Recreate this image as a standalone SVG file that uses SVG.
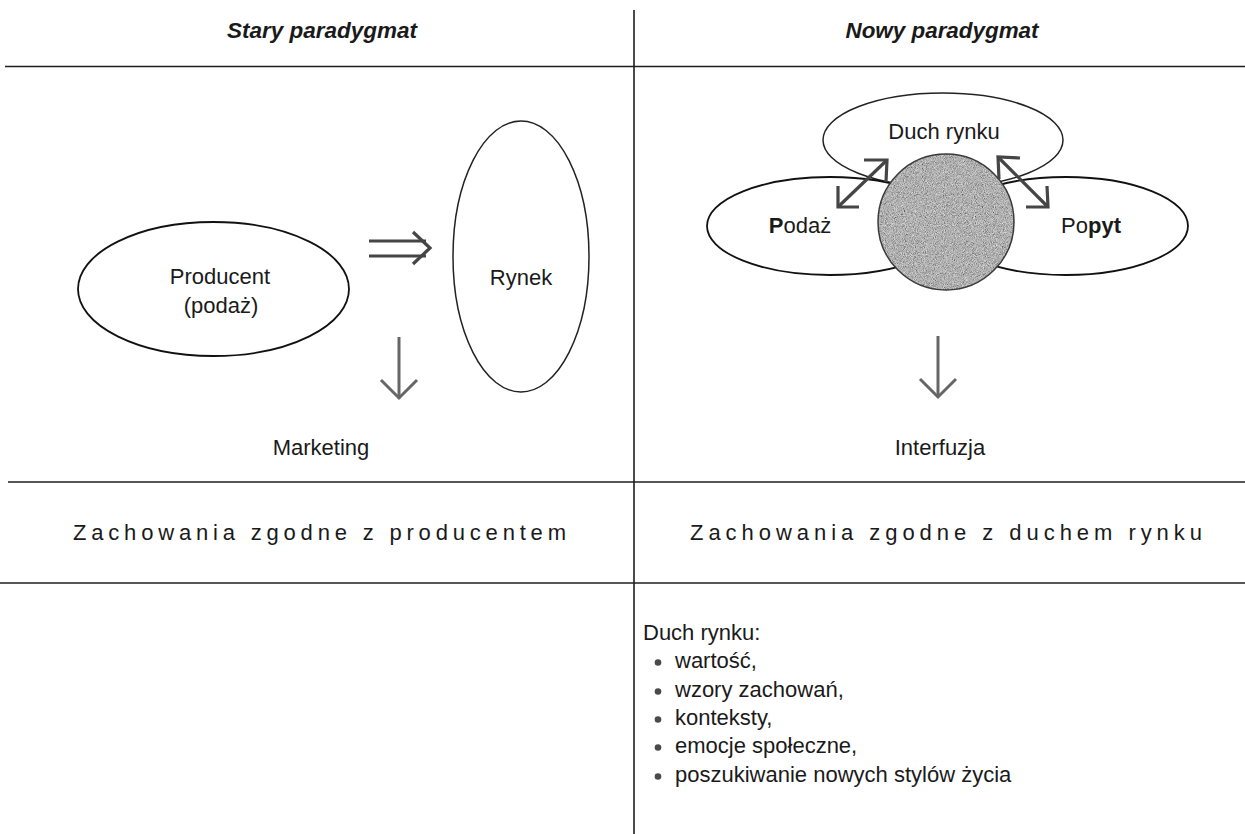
<svg xmlns="http://www.w3.org/2000/svg" width="1245" height="834" viewBox="0 0 1245 834">
<style>
  text { font-family: "Liberation Sans", Arial, sans-serif; fill: #1a1a1a; }
  .hdr { font-size: 22px; font-weight: bold; font-style: italic; text-anchor: middle; }
  .lbl { font-size: 22px; text-anchor: middle; }
  .row { font-size: 22px; }
  .lst { font-size: 22px; }
  .grid { stroke: #1e1e1e; stroke-width: 1.6; fill: none; }
  .ell { fill: #fff; stroke: #111; stroke-width: 1.8; }
  .arr { stroke: #454545; stroke-width: 3.2; fill: none; stroke-linecap: butt; stroke-linejoin: miter; }
  .thin { stroke: #666; stroke-width: 3; fill: none; }
</style>
<defs>
  <filter id="grain" x="0" y="0" width="1" height="1">
    <feTurbulence type="fractalNoise" baseFrequency="1.1" numOctaves="2" seed="5" result="noise"/>
    <feColorMatrix in="noise" type="matrix" values="0.5 0.5 0.5 0 -0.32  0.5 0.5 0.5 0 -0.32  0.5 0.5 0.5 0 -0.32  0 0 0 0 1" result="gray"/>
    <feComposite in="gray" in2="SourceGraphic" operator="in"/>
  </filter>
</defs>
<rect x="0" y="0" width="1245" height="834" fill="#fff"/>

<g id="grid">
  <line class="grid" x1="634" y1="10" x2="634" y2="834"/>
  <line class="grid" x1="5" y1="66.5" x2="1245" y2="66.5"/>
  <line class="grid" x1="8" y1="482" x2="1245" y2="482"/>
  <line class="grid" x1="0" y1="583" x2="1245" y2="583"/>
</g>

<g id="headers">
  <text class="hdr" x="322" y="38" textLength="190" lengthAdjust="spacingAndGlyphs">Stary paradygmat</text>
  <text class="hdr" x="942" y="38" textLength="193" lengthAdjust="spacingAndGlyphs">Nowy paradygmat</text>
</g>

<g id="producent">
  <ellipse class="ell" cx="213.5" cy="289" rx="135.5" ry="67"/>
  <text class="lbl" x="220" y="284">Producent</text>
  <text class="lbl" x="221" y="313">(podaż)</text>
</g>

<g id="rynek">
  <ellipse class="ell" cx="521" cy="256.5" rx="68" ry="135.5" style="stroke-width:1.5;stroke:#222"/>
  <text class="lbl" x="521" y="285">Rynek</text>
</g>

<g id="marketing">
  <text class="lbl" x="321" y="455">Marketing</text>
</g>

<g id="duch-rynku">
  <ellipse class="ell" cx="943" cy="140" rx="120" ry="47" style="stroke-width:1.5;stroke:#222"/>
  <text class="lbl" x="944" y="139">Duch rynku</text>
</g>

<g id="podaz">
  <ellipse class="ell" cx="830" cy="226" rx="123" ry="49"/>
  <text class="lbl" x="800" y="233"><tspan font-weight="bold">P</tspan>odaż</text>
</g>

<g id="popyt">
  <ellipse class="ell" cx="1066" cy="226" rx="122" ry="49"/>
  <text class="lbl" x="1091" y="233">Po<tspan font-weight="bold">pyt</tspan></text>
</g>

<g id="core">
  <circle cx="946" cy="222" r="68" fill="#000" filter="url(#grain)"/>
  <circle cx="946" cy="222" r="68" fill="none" stroke="#3a3a3a" stroke-width="1.5"/>
</g>

<g id="interfuzja">
  <text class="lbl" x="940" y="455">Interfuzja</text>
</g>

<g id="zachowania-left">
  <text class="row" x="73" y="540" textLength="493" lengthAdjust="spacing">Zachowania zgodne z producentem</text>
</g>
<g id="zachowania-right">
  <text class="row" x="690" y="540" textLength="512" lengthAdjust="spacing">Zachowania zgodne z duchem rynku</text>
</g>

<g id="duch-list">
  <text class="lst" x="643" y="640">Duch rynku:</text>
  <g fill="#4a4a4a">
    <circle cx="658" cy="662.5" r="3.3"/>
    <circle cx="658" cy="691.5" r="3.3"/>
    <circle cx="658" cy="719.5" r="3.3"/>
    <circle cx="658" cy="747.5" r="3.3"/>
    <circle cx="658" cy="776.5" r="3.3"/>
  </g>
  <text class="lst" x="675" y="668">wartość,</text>
  <text class="lst" x="675" y="697">wzory zachowań,</text>
  <text class="lst" x="675" y="725">konteksty,</text>
  <text class="lst" x="675" y="753">emocje społeczne,</text>
  <text class="lst" x="675" y="782">poszukiwanie nowych stylów życia</text>
</g>

<g id="connectors">
  <line class="arr" x1="369" y1="241" x2="426" y2="241"/>
  <line class="arr" x1="369" y1="256" x2="426" y2="256"/>
  <polyline class="arr" points="413,232 430,248 413,264"/>
  <line class="thin" x1="399" y1="337" x2="399" y2="397"/>
  <polyline class="thin" points="381,380 399,398 417,380"/>
  <line class="thin" x1="938" y1="336" x2="938" y2="396"/>
  <polyline class="thin" points="920,379 938,397 956,379"/>
  <line class="arr" x1="839" y1="206" x2="886" y2="161"/>
  <polyline class="arr" points="838,186 838,207 859,207"/>
  <polyline class="arr" points="864,160 887,160 886,182"/>
  <line class="arr" x1="999" y1="158" x2="1047" y2="206"/>
  <polyline class="arr" points="1020,158 998,157 999,179"/>
  <polyline class="arr" points="1026,207 1048,207 1047,186"/>
</g>
</svg>
